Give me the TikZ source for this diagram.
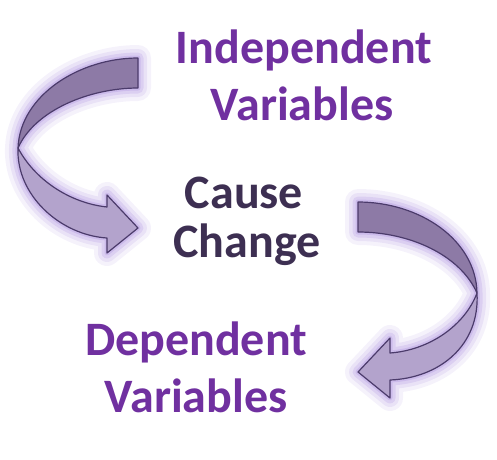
\documentclass[tikz,border=0pt]{standalone}
\usepackage{fontspec}
\setmainfont{Carlito}
\definecolor{txtpurple}{HTML}{7030A0}
\definecolor{txtdark}{HTML}{3D2F52}
\definecolor{banddark}{HTML}{8D7AA6}
\definecolor{bandlight}{HTML}{B3A3CC}
\definecolor{bandline}{HTML}{4B3B6B}
\definecolor{glowcol}{HTML}{B096E0}
\tikzset{
  bigtext/.style={inner sep=0pt, anchor=base, font=\fontsize{48}{57}\selectfont\bfseries},
  purpletext/.style={bigtext, text=txtpurple},
  darktext/.style={bigtext, text=txtdark},
  bandedge/.style={draw=bandline, line width=1.2pt, line join=round},
  glowA/.style={draw=glowcol, line width=26pt, line join=round, draw opacity=0.12},
  glowB/.style={draw=glowcol, line width=18pt, line join=round, draw opacity=0.18},
  glowC/.style={draw=glowcol, line width=11pt, line join=round, draw opacity=0.25},
  glowD/.style={draw=glowcol, line width=5pt, line join=round, draw opacity=0.35}
}
\begin{document}
\begin{tikzpicture}[x=1pt,y=-1pt]
\useasboundingbox (0,0) rectangle (497,459);
% ---------- left arrow ----------
\coordinate (LT1) at (138,58);
\coordinate (LT2) at (138,88);
\coordinate (LTw) at (18,148);
\coordinate (LS1) at (107,207);
\coordinate (LS2) at (107,238);
\coordinate (LH1) at (107,195);
\coordinate (LH2) at (107,253);
\coordinate (LTip) at (138,228);
% ---------- right arrow ----------
\coordinate (RT1) at (358,202);
\coordinate (RT2) at (358,232);
\coordinate (RTw) at (477,293);
\coordinate (RS1) at (390,353);
\coordinate (RS2) at (390,380);
\coordinate (RH1) at (390,338);
\coordinate (RH2) at (390,398);
\coordinate (RTip) at (358,372);
% glow
\foreach \g in {glowA,glowB,glowC,glowD}{
  \path[\g, fill=glowcol, fill opacity=0.15]
    (LT1) .. controls (80,58) and (20,95) .. (LTw)
          .. controls (35,180) and (70,203) .. (LS1) -- (LH1) -- (LTip) -- (LH2) -- (LS2)
          .. controls (60,235) and (16,195) .. (LTw)
          .. controls (35,110) and (90,88) .. (LT2) -- cycle;
  \path[\g, fill=glowcol, fill opacity=0.15]
    (RT1) .. controls (420,202) and (476,240) .. (RTw)
          .. controls (465,325) and (430,350) .. (RS1) -- (RH1) -- (RTip) -- (RH2) -- (RS2)
          .. controls (440,378) and (480,345) .. (RTw)
          .. controls (460,255) and (410,232) .. (RT2) -- cycle;
}
% left arrow bands
\path[bandedge, fill=banddark]
  (LT1) .. controls (80,58) and (20,95) .. (LTw)
        .. controls (35,110) and (90,88) .. (LT2) -- cycle;
\path[bandedge, fill=bandlight]
  (LTw) .. controls (35,180) and (70,203) .. (LS1) -- (LH1) -- (LTip) -- (LH2) -- (LS2)
        .. controls (60,235) and (16,195) .. (LTw) -- cycle;
% right arrow bands
\path[bandedge, fill=banddark]
  (RT1) .. controls (420,202) and (476,240) .. (RTw)
        .. controls (460,255) and (410,232) .. (RT2) -- cycle;
\path[bandedge, fill=bandlight]
  (RTw) .. controls (465,325) and (430,350) .. (RS1) -- (RH1) -- (RTip) -- (RH2) -- (RS2)
        .. controls (440,378) and (480,345) .. (RTw) -- cycle;
% ---------- texts ----------
\node[purpletext] (iv1) at (304,63) {Independent};
\node[purpletext] (iv2) at (302,120) {Variables};
\node[darktext] (cc1) at (244,208) {Cause};
\node[darktext] (cc2) at (247,257) {Change};
\node[purpletext] (dv1) at (196,355) {Dependent};
\node[purpletext] (dv2) at (196,412) {Variables};
\end{tikzpicture}
\end{document}
